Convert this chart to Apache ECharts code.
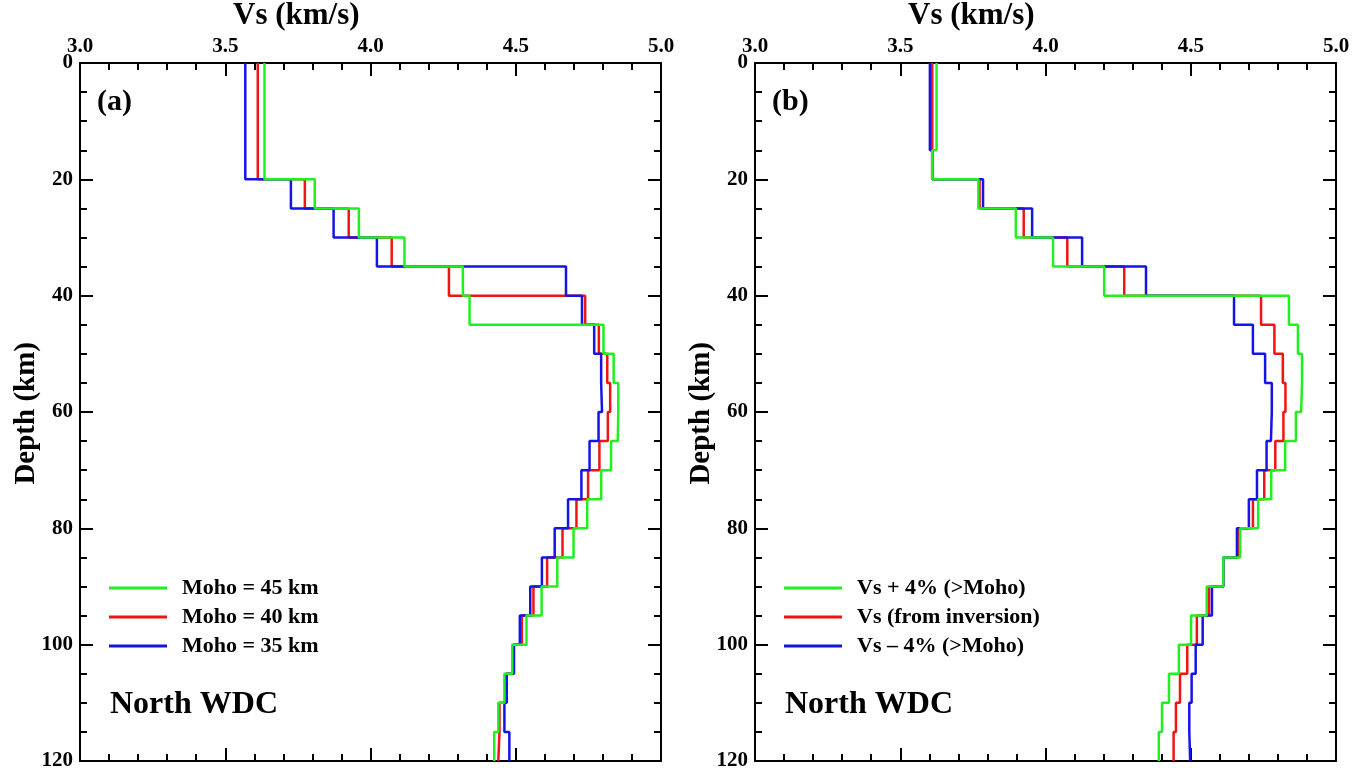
<!DOCTYPE html>
<html>
<head>
<meta charset="utf-8">
<title>North WDC shear-velocity profiles</title>
<script src="https://cdn.jsdelivr.net/npm/echarts@6/dist/echarts.min.js"></script>
<style>
  html, body { margin: 0; padding: 0; background: #fff; }
  #chart { width: 1361px; height: 772px; }
</style>
</head>
<body>
<div id="chart"></div>
<script>
// Layer boundaries (km); each profile gives one Vs value per layer.
const layerDepths = [0, 15, 20, 25, 30, 35, 40, 45, 50, 55, 60, 65, 70, 75, 80, 85, 90, 95, 100, 105, 110, 115, 120];

// Panel (a): models with different Moho depths (km/s)
const moho45 = [3.635, 3.635, 3.808, 3.960, 4.117, 4.318, 4.341, 4.802, 4.837, 4.853, 4.851, 4.828, 4.794, 4.746, 4.699, 4.643, 4.589, 4.537, 4.488, 4.461, 4.440, 4.426];
const moho40 = [3.612, 3.612, 3.774, 3.925, 4.073, 4.270, 4.739, 4.786, 4.815, 4.825, 4.817, 4.788, 4.749, 4.709, 4.661, 4.608, 4.561, 4.521, 4.490, 4.465, 4.444, 4.440];
const moho35 = [3.569, 3.569, 3.726, 3.873, 4.022, 4.673, 4.728, 4.770, 4.794, 4.797, 4.785, 4.754, 4.726, 4.680, 4.634, 4.590, 4.550, 4.514, 4.494, 4.469, 4.461, 4.478];

// Panel (b): inverted model and +/-4 % perturbations below the Moho (km/s)
const vsPlus4 = [3.625, 3.610, 3.769, 3.898, 4.026, 4.202, 4.838, 4.869, 4.883, 4.880, 4.862, 4.825, 4.777, 4.732, 4.670, 4.612, 4.555, 4.501, 4.459, 4.425, 4.401, 4.390];
const vsInv   = [3.610, 3.610, 3.773, 3.925, 4.075, 4.271, 4.742, 4.788, 4.817, 4.826, 4.819, 4.791, 4.753, 4.714, 4.662, 4.612, 4.563, 4.521, 4.488, 4.463, 4.449, 4.441];
const vsMinus4 = [3.602, 3.610, 3.785, 3.954, 4.126, 4.346, 4.649, 4.714, 4.756, 4.779, 4.776, 4.761, 4.728, 4.700, 4.659, 4.612, 4.573, 4.541, 4.517, 4.503, 4.495, 4.498];

const namesA = ['Moho = 45 km', 'Moho = 40 km', 'Moho = 35 km'];
const namesB = ['Vs + 4% (>Moho)', 'Vs (from inversion)', 'Vs \u2013 4% (>Moho)'];

const velTicks = { min: 3.0, max: 5.0, interval: 0.5 };
const depthTicks = { min: 0, max: 120, interval: 20 };

const GREEN = '#1ff01f', RED = '#f01414', BLUE = '#1414e6';
const FONT = '"Liberation Serif", "DejaVu Serif", serif';

// Turn layered values into the corners of a staircase profile
function staircase(values) {
  const pts = [];
  for (let i = 0; i < values.length; i++) {
    pts.push([values[i], layerDepths[i]]);
    pts.push([values[i], layerDepths[i + 1]]);
  }
  return pts;
}

const axisLine = { show: true, onZero: false, lineStyle: { color: '#000', width: 2 } };
const tickStyle = { color: '#000', width: 2 };

function xAxisFor(gridIndex, position, labels) {
  return {
    type: 'value', gridIndex, position,
    min: velTicks.min, max: velTicks.max, interval: velTicks.interval,
    axisLine,
    axisTick: { show: true, inside: true, length: 13, lineStyle: tickStyle },
    minorTick: { show: true, splitNumber: 5, length: 7, lineStyle: tickStyle },
    splitLine: { show: false },
    axisLabel: {
      show: labels, margin: 6, color: '#000',
      fontFamily: FONT, fontWeight: 'bold', fontSize: 21,
      formatter: v => v.toFixed(1)
    }
  };
}

function yAxisFor(gridIndex, position, labels) {
  return {
    type: 'value', gridIndex, position, inverse: true,
    min: depthTicks.min, max: depthTicks.max, interval: depthTicks.interval,
    axisLine,
    axisTick: { show: true, inside: true, length: 13, lineStyle: tickStyle },
    minorTick: { show: true, splitNumber: 4, length: 7, lineStyle: tickStyle },
    splitLine: { show: false },
    axisLabel: {
      show: labels, margin: 7, color: '#000',
      fontFamily: FONT, fontWeight: 'bold', fontSize: 21
    }
  };
}

function profile(name, values, color, panel) {
  return {
    name, type: 'line',
    xAxisIndex: panel * 2, yAxisIndex: panel * 2,
    data: staircase(values),
    symbol: 'none', showSymbol: false,
    animation: false,
    lineStyle: { color, width: 2.5 },
    itemStyle: { color }
  };
}

function legendFor(left, names) {
  return {
    orient: 'vertical', left, top: 577, padding: 0,
    data: names,
    icon: 'rect',
    itemWidth: 58, itemHeight: 3, itemGap: 7,
    selectedMode: false,
    textStyle: {
      fontFamily: FONT, fontWeight: 'bold', fontSize: 22, lineHeight: 22,
      color: '#000', padding: [0, 0, 0, 10]
    }
  };
}

function label(text, left, top, size, extra) {
  return Object.assign({
    type: 'text', left, top,
    style: { text, fontFamily: FONT, fontWeight: 'bold', fontSize: size, fill: '#000' }
  }, extra || {});
}

const chart = echarts.init(document.getElementById('chart'), null, { renderer: 'canvas' });

chart.setOption({
  backgroundColor: '#fff',
  animation: false,
  grid: [
    { left: 80, top: 63, width: 581, height: 698 },
    { left: 755, top: 63, width: 581, height: 698 }
  ],
  xAxis: [
    xAxisFor(0, 'top', true), xAxisFor(0, 'bottom', false),
    xAxisFor(1, 'top', true), xAxisFor(1, 'bottom', false)
  ],
  yAxis: [
    yAxisFor(0, 'left', true), yAxisFor(0, 'right', false),
    yAxisFor(1, 'left', true), yAxisFor(1, 'right', false)
  ],
  legend: [legendFor(109, namesA), legendFor(784, namesB)],
  series: [
    // red first, then blue, green drawn on top
    profile(namesA[1], moho40, RED, 0),
    profile(namesA[2], moho35, BLUE, 0),
    profile(namesA[0], moho45, GREEN, 0),
    profile(namesB[1], vsInv, RED, 1),
    profile(namesB[2], vsMinus4, BLUE, 1),
    profile(namesB[0], vsPlus4, GREEN, 1)
  ],
  graphic: [
    label('Vs (km/s)', 233, 0, 31),
    label('Vs (km/s)', 908, 0, 31),
    label('Depth (km)', 12, 342, 29, { rotation: Math.PI / 2 }),
    label('Depth (km)', 687, 342, 29, { rotation: Math.PI / 2 }),
    label('(a)', 97, 87, 30),
    label('(b)', 772, 87, 30),
    label('North WDC', 110, 689, 32),
    label('North WDC', 785, 689, 32)
  ]
});
</script>
</body>
</html>
